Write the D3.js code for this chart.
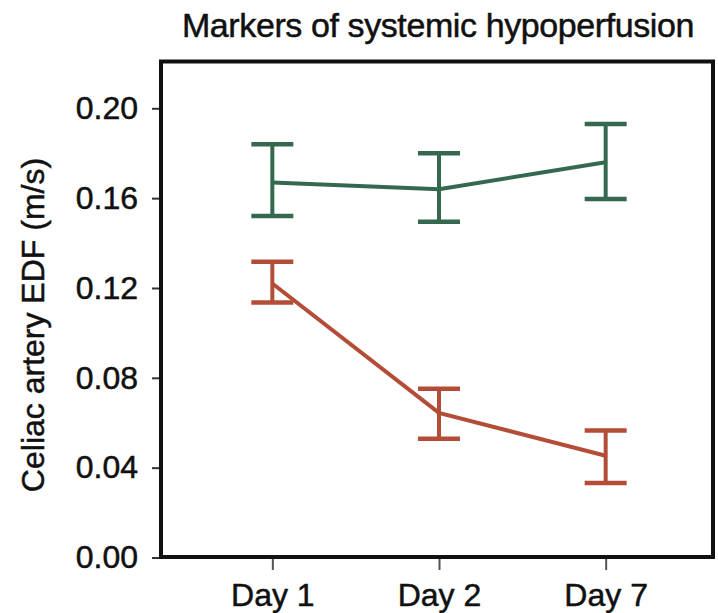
<!DOCTYPE html>
<html><head><meta charset="utf-8">
<script src="https://cdn.jsdelivr.net/npm/d3@7"></script>
<style>
html,body{margin:0;padding:0;background:#fff;}
svg text{font-family:"Liberation Sans",Arial,Helvetica,sans-serif;fill:#111;stroke:#111;stroke-width:0.5px;}
</style></head>
<body>
<svg id="chart" width="718" height="613"></svg>
<script>
const days = ["Day 1", "Day 2", "Day 7"];
const yTicks = [0.00, 0.04, 0.08, 0.12, 0.16, 0.20];
const greenMean  = [0.167, 0.164, 0.176];
const greenUpper = [0.184, 0.180, 0.193];
const greenLower = [0.152, 0.1495, 0.1596];
const redMean  = [0.122, 0.0644, 0.0453];
const redUpper = [0.1317, 0.0751, 0.0566];
const redLower = [0.1135, 0.0529, 0.0332];
const titleText = "Markers of systemic hypoperfusion";
const yLabel = "Celiac artery EDF (m/s)";

const svg = d3.select("#chart");
const frame = {left:161, right:713, top:61.5, bottom:557};

const x = d3.scalePoint().domain(days).range([164, 714]).padding(0.65);
const y = d3.scaleLinear().domain([0, 0.2]).range([557.5, 108.3]);

// Title
svg.append("text").attr("x", 438).attr("y", 37).attr("text-anchor","middle")
  .attr("font-size", 34).attr("letter-spacing", "-0.4").text(titleText);

// Y label
svg.append("text").attr("transform", "translate(44,325) rotate(-90)")
  .attr("text-anchor","middle").attr("font-size", 32).text(yLabel);

// Y axis ticks and labels
const yAxis = d3.axisLeft(y).tickValues(yTicks).tickFormat(d3.format(".2f")).tickSize(9).tickPadding(14);
const gy = svg.append("g").attr("transform", `translate(${frame.left},0)`).call(yAxis);
gy.select(".domain").remove();
gy.selectAll(".tick line").attr("stroke","#333").attr("stroke-width",2);
gy.selectAll(".tick text").attr("font-size", 32).attr("fill","#111").attr("font-family","Liberation Sans, Arial, sans-serif");

// X axis
const xAxis = d3.axisBottom(x).tickSize(13).tickPadding(13);
const gx = svg.append("g").attr("transform", `translate(0,${frame.bottom})`).call(xAxis);
gx.select(".domain").remove();
gx.selectAll(".tick line").attr("stroke","#555").attr("stroke-width",2);
gx.selectAll(".tick text").attr("font-size", 32).attr("fill","#111").attr("font-family","Liberation Sans, Arial, sans-serif");

// Frame
svg.append("rect").attr("x", frame.left).attr("y", frame.top)
  .attr("width", frame.right - frame.left).attr("height", frame.bottom - frame.top)
  .attr("fill","none").attr("stroke","#111").attr("stroke-width",4);

function series(mean, upper, lower, color){
  const g = svg.append("g");
  const data = days.map((d,i)=>({d, m:mean[i], u:upper[i], l:lower[i]}));
  const line = d3.line().x(p=>x(p.d)).y(p=>y(p.m));
  g.append("path").datum(data).attr("d", line).attr("fill","none")
    .attr("stroke", color).attr("stroke-width", 4);
  const cap = 21;
  data.forEach(p=>{
    g.append("line").attr("x1", x(p.d)).attr("x2", x(p.d)).attr("y1", y(p.u)).attr("y2", y(p.l))
      .attr("stroke", color).attr("stroke-width", 4);
    [p.u, p.l].forEach(v=>{
      g.append("line").attr("x1", x(p.d)-cap).attr("x2", x(p.d)+cap).attr("y1", y(v)).attr("y2", y(v))
        .attr("stroke", color).attr("stroke-width", 4.5);
    });
  });
}
series(greenMean, greenUpper, greenLower, "#35694f");
series(redMean, redUpper, redLower, "#b44d37");
</script>
</body></html>
